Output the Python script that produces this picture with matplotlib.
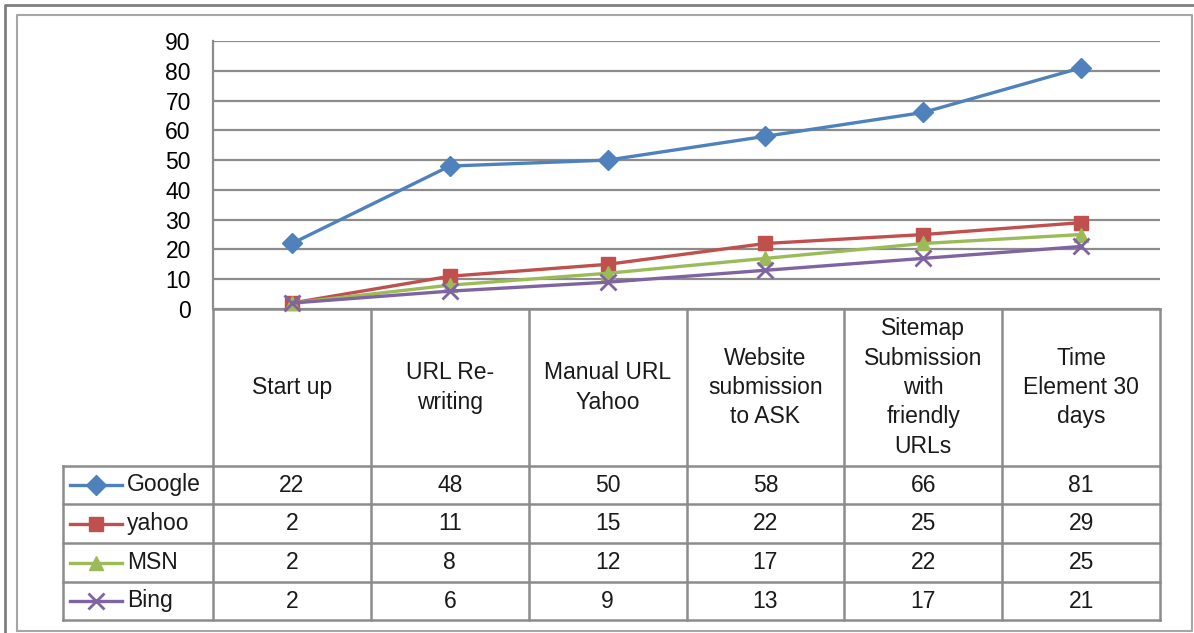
import matplotlib.pyplot as plt
import numpy as np

plt.rcParams['font.family'] = ['Liberation Sans', 'DejaVu Sans']

categories = ["Start up", "URL Re-\nwriting", "Manual URL\nYahoo",
              "Website\nsubmission\nto ASK",
              "Sitemap\nSubmission\nwith\nfriendly\nURLs",
              "Time\nElement 30\ndays"]
series = ["Google", "yahoo", "MSN", "Bing"]
google = [22, 48, 50, 58, 66, 81]
yahoo = [2, 11, 15, 22, 25, 29]
msn = [2, 8, 12, 17, 22, 25]
bing = [2, 6, 9, 13, 17, 21]
values = [google, yahoo, msn, bing]
yticks = [0, 10, 20, 30, 40, 50, 60, 70, 80, 90]

colors = ["#4F81BD", "#C0504D", "#9BBB59", "#8064A2"]
markers = ["D", "s", "^", "x"]
msizes = [10, 10, 10, 12]

W, H = 1194, 633
# layout in pixels
L, R = 213, 1160          # plot / table columns
TOP, BOT = 41, 309        # plot y range (90 .. 0)
HEAD = 466                # bottom of category row
ROWS = [466, 504, 543, 582, 620]
KEYL = 63
GRID = "#8c8c8c"
FS = 16.5

fig = plt.figure(figsize=(W / 100, H / 100), dpi=100)
bg = fig.add_axes([0, 0, 1, 1])
bg.set_xlim(0, W)
bg.set_ylim(H, 0)
bg.axis("off")

# frames
bg.plot([5, 5, W], [H, 5, 5], color="#7f7f7f", lw=2)
bg.plot([17, 17, W - 2, W - 2, 17], [H - 2, 15, 15, H - 2, H - 2], color="#a6a6a6", lw=1.5)

ax = fig.add_axes([L / W, 1 - BOT / H, (R - L) / W, (BOT - TOP) / H])
ax.patch.set_alpha(0)
x = np.arange(len(categories))
for name, vals, c, m, ms in zip(series, values, colors, markers, msizes):
    ax.plot(x, vals, color=c, lw=2.4, marker=m, markersize=ms,
            markeredgewidth=2 if m == "x" else 1, markeredgecolor=c, clip_on=False)
ax.set_xlim(-0.5, len(categories) - 0.5)
ax.set_ylim(0, 90)
ax.set_yticks(yticks)
ax.set_xticks([])
ax.grid(axis="y", color=GRID, lw=1.6)
ax.set_axisbelow(True)
ax.tick_params(axis="y", length=0, pad=16, labelsize=FS)
for s in ["top", "right", "bottom"]:
    ax.spines[s].set_visible(False)
ax.spines["left"].set_color(GRID)
ax.spines["left"].set_linewidth(1.6)

# data table
ncol = len(categories)
colx = [L + i * (R - L) / ncol for i in range(ncol + 1)]
lw = 1.8
for xx in colx:
    bg.plot([xx, xx], [BOT, ROWS[-1]], color=GRID, lw=lw)
bg.plot([KEYL, KEYL], [ROWS[0], ROWS[-1]], color=GRID, lw=lw)
for yy in ROWS:
    bg.plot([KEYL, R], [yy, yy], color=GRID, lw=lw)
bg.plot([L, R], [BOT, BOT], color=GRID, lw=lw)

for i, cat in enumerate(categories):
    cx = (colx[i] + colx[i + 1]) / 2
    bg.text(cx, (BOT + HEAD) / 2, cat, ha="center", va="center",
            fontsize=FS, linespacing=1.36, color="#1a1a1a")

for r, (name, vals, c, m, ms) in enumerate(zip(series, values, colors, markers, msizes)):
    cy = (ROWS[r] + ROWS[r + 1]) / 2
    bg.plot([70, 122], [cy, cy], color=c, lw=2.4)
    bg.plot([96], [cy], color=c, marker=m, markersize=ms,
            markeredgewidth=2 if m == "x" else 1, markeredgecolor=c)
    bg.text(127, cy, name, ha="left", va="center", fontsize=FS, color="#1a1a1a")
    for i, v in enumerate(vals):
        cx = (colx[i] + colx[i + 1]) / 2
        bg.text(cx, cy, str(v), ha="center", va="center", fontsize=FS, color="#1a1a1a")

fig.savefig("out.png", dpi=100)
